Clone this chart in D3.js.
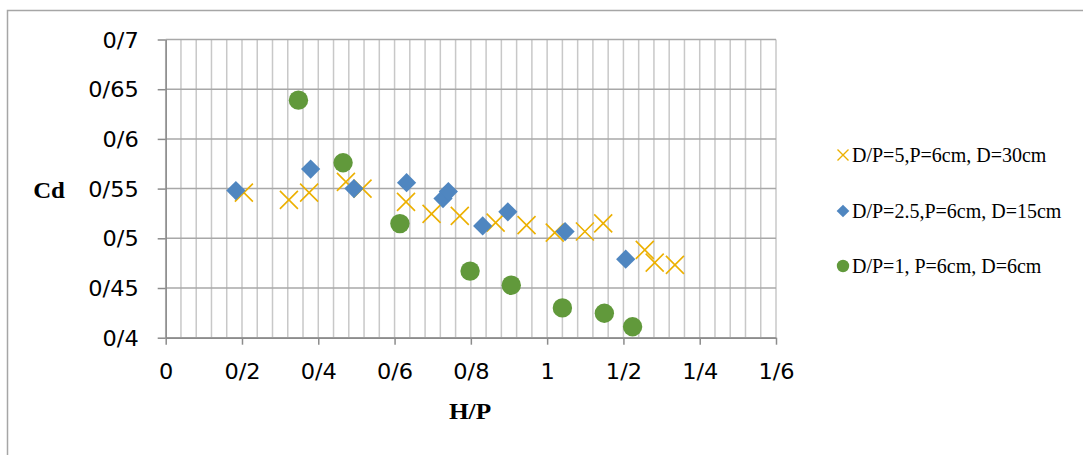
<!DOCTYPE html>
<html><head><meta charset="utf-8">
<script src="https://cdn.jsdelivr.net/npm/d3@7"></script>
<style>body{margin:0;background:#fff;}svg{display:block;}</style>
</head><body>
<svg id="c" width="1083" height="455"></svg>
<script>
// ---- data ----
const xTickValues = [0, 0.2, 0.4, 0.6, 0.8, 1.0, 1.2, 1.4, 1.6];
const xTickLabels = ["0", "0/2", "0/4", "0/6", "0/8", "1", "1/2", "1/4", "1/6"];
const yTickValues = [0.4, 0.45, 0.5, 0.55, 0.6, 0.65, 0.7];
const yTickLabels = ["0/4", "0/45", "0/5", "0/55", "0/6", "0/65", "0/7"];
const seriesNames = ["D/P=5,P=6cm, D=30cm", "D/P=2.5,P=6cm, D=15cm", "D/P=1, P=6cm, D=6cm"];

const s1x = [0.205, 0.323, 0.376, 0.4725, 0.516, 0.630, 0.697, 0.771, 0.865, 0.946, 1.020, 1.099, 1.147, 1.256, 1.282, 1.335];
const s1y = [0.546, 0.5387, 0.546, 0.5568, 0.550, 0.5367, 0.5246, 0.5226, 0.5158, 0.5132, 0.5057, 0.5068, 0.515, 0.4883, 0.4755, 0.4732];

const s2x = [0.184, 0.380, 0.4935, 0.6315, 0.727, 0.741, 0.831, 0.897, 1.047, 1.206];
const s2y = [0.548, 0.5696, 0.550, 0.556, 0.540, 0.547, 0.5125, 0.5266, 0.5068, 0.479];

const s3x = [0.348, 0.465, 0.614, 0.798, 0.906, 1.040, 1.150, 1.224];
const s3y = [0.639, 0.576, 0.5148, 0.467, 0.4528, 0.430, 0.4246, 0.411];

const colors = ["#ECB000", "#4F86C0", "#61993B"];

// ---- chart ----
const svg = d3.select("#c");
const x = d3.scaleLinear().domain([0, 1.6]).range([165.7, 776]);
const y = d3.scaleLinear().domain([0.4, 0.7]).range([337.7, 39.5]);
const SX = 1.07; // horizontal stretch of tick labels

// outer border
svg.append("path").attr("d", "M7.5,455 L7.5,10.5 L1083,10.5")
  .attr("fill", "none").attr("stroke", "#a6a6a6").attr("stroke-width", 1.5);

// vertical gridlines every 0.04
const vGrid = d3.range(0, 41).map(i => i * 0.04);
svg.append("g").selectAll("line").data(vGrid).join("line")
  .attr("x1", d => x(d)).attr("x2", d => x(d))
  .attr("y1", y(0.7)).attr("y2", y(0.4))
  .attr("stroke", "#c8c8c8").attr("stroke-width", 1.5);
// horizontal gridlines
svg.append("g").selectAll("line").data(yTickValues).join("line")
  .attr("x1", x(0)).attr("x2", x(1.6))
  .attr("y1", d => y(d)).attr("y2", d => y(d))
  .attr("stroke", "#a8a8a8").attr("stroke-width", 1.5);

// axes
const xAxis = d3.axisBottom(x).tickValues(xTickValues)
  .tickFormat((d, i) => xTickLabels[i]).tickSize(7).tickSizeOuter(0);
const gx = svg.append("g").attr("transform", `translate(0,${y(0.4)})`).call(xAxis);
const yAxis = d3.axisLeft(y).tickValues(yTickValues)
  .tickFormat((d, i) => yTickLabels[i]).tickSize(8).tickSizeOuter(0);
const gy = svg.append("g").attr("transform", `translate(${x(0)},0)`).call(yAxis);
[gx, gy].forEach(g => {
  g.select(".domain").attr("stroke", "#8c8c8c").attr("stroke-width", 1.5);
  g.selectAll(".tick line").attr("stroke", "#8c8c8c").attr("stroke-width", 1.5);
  g.selectAll("text").attr("font-family", "DejaVu Sans").attr("font-size", 21).attr("fill", "#000")
    .attr("transform", `scale(${SX},1)`);
});
gx.selectAll("text").attr("dy", "1.05em").attr("y", 19);
gy.selectAll("text").attr("x", -27 / SX).attr("dy", "0.36em");

// axis titles
svg.append("text").attr("transform", "translate(49,198) scale(1.08,1)").attr("text-anchor", "middle")
  .attr("font-family", "Liberation Serif").attr("font-weight", "bold").attr("font-size", 23)
  .text("Cd");
svg.append("text").attr("transform", "translate(470,419) scale(1.1,1)").attr("text-anchor", "middle")
  .attr("font-family", "Liberation Serif").attr("font-weight", "bold").attr("font-size", 23)
  .text("H/P");

// markers
function drawX(g, cx, cy, r, sw) {
  g.append("path").attr("d", `M${cx - r},${cy - r}L${cx + r},${cy + r}M${cx - r},${cy + r}L${cx + r},${cy - r}`)
    .attr("stroke", colors[0]).attr("stroke-width", sw).attr("fill", "none");
}
const g1 = svg.append("g");
s1x.forEach((v, i) => drawX(g1, x(v), y(s1y[i]), 9, 1.6));

svg.append("g").selectAll("path").data(s2x).join("path")
  .attr("transform", (d, i) => `translate(${x(d)},${y(s2y[i])}) rotate(45)`)
  .attr("d", "M-6.8,-6.8H6.8V6.8H-6.8Z")
  .attr("fill", colors[1]);

svg.append("g").selectAll("circle").data(s3x).join("circle")
  .attr("cx", d => x(d)).attr("cy", (d, i) => y(s3y[i])).attr("r", 9.7)
  .attr("fill", colors[2]);

// legend
const legY = [155, 211, 266];
const lg = svg.append("g");
drawX(lg, 843, legY[0], 5.5, 1.4);
lg.append("path").attr("transform", `translate(843,${legY[1]}) rotate(45)`)
  .attr("d", "M-4.5,-4.5H4.5V4.5H-4.5Z").attr("fill", colors[1]);
lg.append("circle").attr("cx", 843).attr("cy", legY[2]).attr("r", 6.2).attr("fill", colors[2]);
seriesNames.forEach((n, i) => {
  lg.append("text").attr("x", 852).attr("y", legY[i]).attr("dy", "0.33em")
    .attr("font-family", "Liberation Serif").attr("font-size", 20).attr("fill", "#000").text(n);
});
</script>
</body></html>
